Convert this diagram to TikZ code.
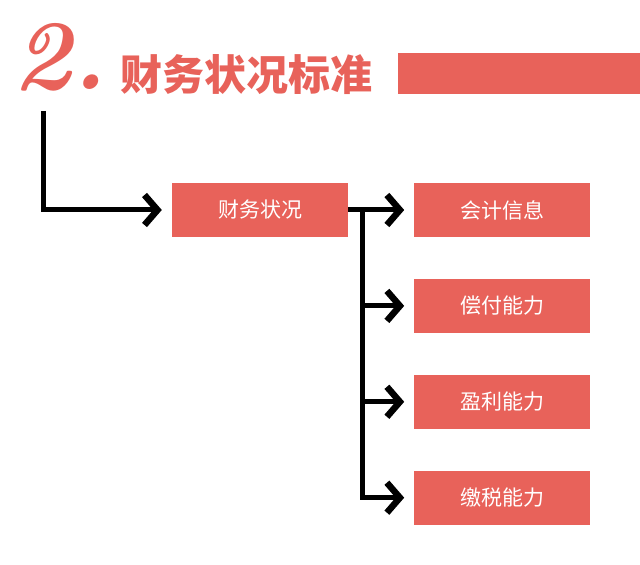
\documentclass[tikz,border=0pt]{standalone}
\usepackage{fontspec}
\newfontfamily\cjk{Noto Sans CJK SC}
\usetikzlibrary{arrows.meta, positioning, calc}
\usepackage{xcolor}
\definecolor{coral}{RGB}{232,98,90}

\tikzset{
  caja/.style={fill=coral, minimum width=176pt, minimum height=54pt,
    inner sep=0pt, text=white, font=\cjk\fontsize{21}{21}\selectfont},
  linea/.style={line width=5pt},
  flecha/.style={line width=5pt, shorten >=10pt,
    -{Straight Barb[length=13pt, width=30pt, line width=6.5pt]}}
}

\begin{document}
\begin{tikzpicture}[x=1pt, y=1pt]
    \useasboundingbox[fill=white] (0,0) rectangle (640,565);

    % encabezado
    \node[text=coral, font=\fontsize{100}{100}\selectfont\bfseries\itshape] (num) at (60,508) {2.};
    \node[text=coral, font=\cjk\bfseries\fontsize{42}{42}\selectfont] (titulo) at (246,490) {财务状况标准};
    \fill[coral] (398,471) rectangle (640,512);

    % cajas
    \node[caja] (main) at (260,355) {财务状况};
    \node[caja, right=66pt of main] (b1) {会计信息};
    \node[caja, below=41.5pt of b1] (b2) {偿付能力};
    \node[caja, below=41.5pt of b2] (b3) {盈利能力};
    \node[caja, below=41.5pt of b3] (b4) {缴税能力};

    % entrada
    \coordinate (inicio) at (43,454);
    \draw[flecha] (inicio) |- (main.west);

    % tronco y ramas
    \coordinate (tronco) at ($(main.east)+(14pt,0)$);
    \draw[linea] (main.east) -- (tronco);
    \draw[linea] (tronco) -- ($(tronco |- b4.west)+(0,-2.5pt)$);
    \foreach \b in {b1,b2,b3,b4}
      \draw[flecha] (tronco |- \b.west) -- (\b.west);
  \end{tikzpicture}
\end{document}
